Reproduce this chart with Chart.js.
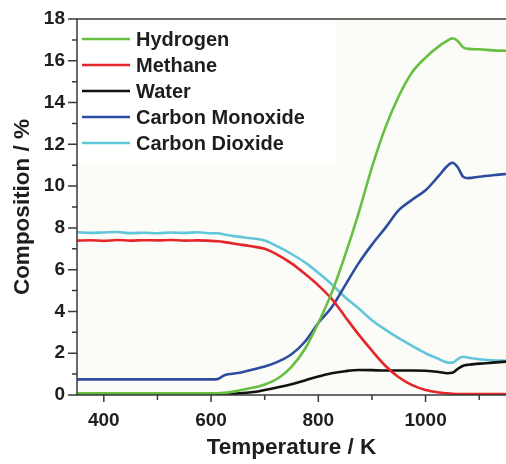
<!DOCTYPE html>
<html>
<head>
<meta charset="utf-8">
<script src="https://cdn.jsdelivr.net/npm/chart.js@4.4.1/dist/chart.umd.min.js"></script>
<style>
  html, body { margin: 0; padding: 0; background: #fff; overflow: hidden; }
  #wrap { width: 506px; height: 464px; }
  #chart { display: block; }
</style>
</head>
<body>
<div id="wrap"><canvas id="chart" width="506" height="464"></canvas></div>
<script>
// temperature grid (K)
const temps = [350, 375, 400, 425, 450, 475, 500, 525, 550, 575, 600, 612, 625, 650, 675, 700, 725, 750, 775, 800,
  825, 850, 875, 900, 925, 950, 975, 1000, 1025, 1040, 1050, 1060, 1070, 1080, 1100, 1125, 1150];

// composition (%)
const hydrogen = [0.08, 0.08, 0.08, 0.08, 0.08, 0.08, 0.08, 0.08, 0.08, 0.08, 0.08, 0.08, 0.1, 0.2, 0.33, 0.5, 0.8, 1.35, 2.2, 3.45,
  4.9, 6.7, 8.7, 10.9, 12.8, 14.3, 15.45, 16.15, 16.7, 16.95, 17.08, 16.95, 16.65, 16.57, 16.55, 16.5, 16.48];
const methane = [7.39, 7.41, 7.38, 7.42, 7.39, 7.41, 7.4, 7.42, 7.39, 7.4, 7.38, 7.36, 7.32, 7.22, 7.12, 7.0, 6.7, 6.3, 5.8, 5.25,
  4.6, 3.75, 2.9, 2.12, 1.4, 0.85, 0.47, 0.24, 0.12, 0.08, 0.06, 0.05, 0.05, 0.04, 0.04, 0.04, 0.04];
const water = [0.04, 0.04, 0.04, 0.04, 0.04, 0.04, 0.04, 0.04, 0.04, 0.04, 0.04, 0.04, 0.05, 0.08, 0.13, 0.24, 0.37, 0.52, 0.7, 0.88,
  1.04, 1.14, 1.2, 1.19, 1.17, 1.17, 1.17, 1.16, 1.1, 1.04, 1.06, 1.25, 1.4, 1.45, 1.5, 1.55, 1.6];
const carbonMonoxide = [0.75, 0.75, 0.75, 0.75, 0.75, 0.75, 0.75, 0.75, 0.75, 0.75, 0.75, 0.76, 0.95, 1.05, 1.2, 1.36, 1.6, 1.95, 2.55, 3.45,
  4.2, 5.25, 6.3, 7.2, 8.0, 8.85, 9.35, 9.8, 10.5, 10.95, 11.12, 10.9, 10.45, 10.38, 10.45, 10.52, 10.58];
const carbonDioxide = [7.79, 7.76, 7.78, 7.8, 7.75, 7.77, 7.74, 7.78, 7.76, 7.79, 7.74, 7.74, 7.68, 7.58, 7.5, 7.4, 7.1, 6.75, 6.35, 5.85,
  5.3, 4.68, 4.15, 3.58, 3.13, 2.72, 2.35, 2.0, 1.72, 1.56, 1.55, 1.72, 1.83, 1.78, 1.71, 1.66, 1.64];

const seriesNames = ["Hydrogen", "Methane", "Water", "Carbon Monoxide", "Carbon Dioxide"];
const seriesValues = [hydrogen, methane, water, carbonMonoxide, carbonDioxide];
const seriesColors = ["#66bf40", "#e4262b", "#111111", "#2d4c9f", "#62c6da"];

const FONT = "'Liberation Sans', Arial, sans-serif";
const INK = "#1e1e1e";
const AXIS = "#3a3a3a";

// plot background, legend panel, axis frame, tick marks and legend
const framePlugin = {
  id: "frame",
  beforeDatasetsDraw(chart) {
    const { ctx, chartArea: a } = chart;
    ctx.save();
    ctx.fillStyle = "#fbfbf7";
    ctx.fillRect(a.left, a.top, a.right - a.left, a.bottom - a.top);
    ctx.fillStyle = "#ffffff";
    ctx.fillRect(a.left, a.top, 258, 144);
    ctx.restore();
  },
  afterDraw(chart) {
    const { ctx, chartArea: a, scales } = chart;
    ctx.save();
    ctx.strokeStyle = AXIS;
    ctx.lineWidth = 1.5;
    ctx.beginPath();
    ctx.moveTo(a.right, a.top);
    ctx.lineTo(a.left, a.top);
    ctx.lineTo(a.left, a.bottom);
    ctx.lineTo(a.right, a.bottom);
    ctx.stroke();

    // y ticks: major every 2, minor every 1
    ctx.beginPath();
    for (let v = 0; v <= 18; v++) {
      const y = scales.y.getPixelForValue(v);
      const len = v % 2 === 0 ? 9 : 5;
      ctx.moveTo(a.left, y);
      ctx.lineTo(a.left - len, y);
    }
    // x ticks: major every 200, minor every 100
    for (let v = 400; v <= 1100; v += 100) {
      const x = scales.x.getPixelForValue(v);
      const len = v % 200 === 0 ? 7 : 5;
      ctx.moveTo(x, a.bottom);
      ctx.lineTo(x, a.bottom + len);
    }
    ctx.stroke();

    // legend
    ctx.font = "bold 20px " + FONT;
    ctx.textBaseline = "middle";
    chart.data.datasets.forEach((ds, i) => {
      const y = a.top + 20 + i * 26;
      ctx.strokeStyle = ds.borderColor;
      ctx.lineWidth = 2.6;
      ctx.beginPath();
      ctx.moveTo(a.left + 5, y);
      ctx.lineTo(a.left + 53, y);
      ctx.stroke();
      ctx.fillStyle = INK;
      ctx.fillText(ds.label, a.left + 59, y + 1);
    });
    ctx.restore();
  }
};

new Chart(document.getElementById("chart"), {
  type: "line",
  data: {
    datasets: seriesNames.map((name, i) => ({
      label: name,
      data: temps.map((t, j) => ({ x: t, y: seriesValues[i][j] })),
      borderColor: seriesColors[i],
      borderWidth: 2.6,
      pointRadius: 0,
      cubicInterpolationMode: "monotone",
      fill: false
    }))
  },
  options: {
    responsive: false,
    animation: false,
    layout: { padding: { top: 19, right: 0, left: 0, bottom: 0 } },
    plugins: { legend: { display: false }, tooltip: { enabled: false } },
    scales: {
      x: {
        type: "linear",
        min: 350,
        max: 1150,
        grid: { display: false, drawTicks: true, tickLength: 14 },
        border: { display: false },
        ticks: {
          stepSize: 50,
          autoSkip: false,
          maxRotation: 0,
          padding: 0,
          color: INK,
          font: { family: FONT, size: 19, weight: "bold" },
          callback: (v) => (v % 200 === 0 ? v : "")
        },
        title: {
          display: true,
          text: "Temperature / K",
          color: INK,
          font: { family: FONT, size: 22.5, weight: "bold" },
          padding: { top: 0, bottom: 3 }
        },
        afterFit: (scale) => { scale.height = 69; }
      },
      y: {
        min: 0,
        max: 18,
        grid: { display: false, drawTicks: true, tickLength: 8 },
        border: { display: false },
        ticks: {
          stepSize: 1,
          autoSkip: false,
          padding: 4,
          color: INK,
          font: { family: FONT, size: 19, weight: "bold" },
          callback: (v) => (v % 2 === 0 ? v : "")
        },
        title: {
          display: true,
          text: "Composition / %",
          color: INK,
          font: { family: FONT, size: 22.5, weight: "bold" },
          padding: { top: 9, bottom: 0 }
        },
        afterFit: (scale) => { scale.width = 77; }
      }
    }
  },
  plugins: [framePlugin]
});
</script>
</body>
</html>
